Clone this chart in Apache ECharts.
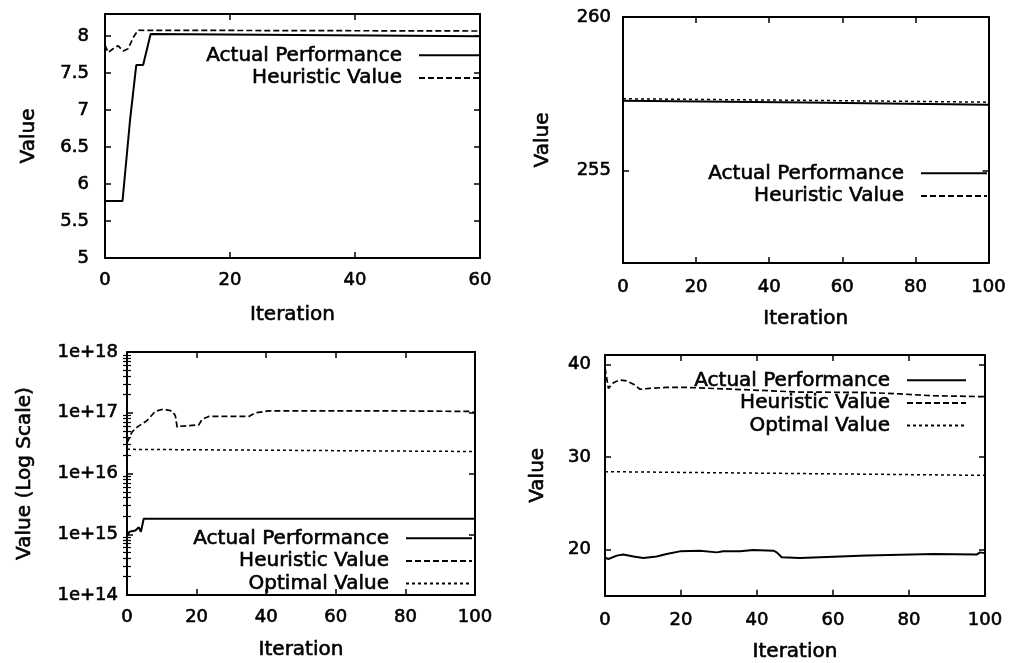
<!DOCTYPE html>
<html>
<head>
<meta charset="utf-8">
<script src="https://cdn.jsdelivr.net/npm/echarts@6/dist/echarts.min.js"></script>
<style>
  html, body { margin: 0; padding: 0; background: #fff; }
  #chart { width: 1009px; height: 663px; }
</style>
</head>
<body>
<div id="chart"></div>
<script>
// ---- Series data (iteration, value) for the four runs ----

// Run A (top left)
const aActualIter = [0, 2.8, 4.0, 5.0, 6.1, 7.3, 60];
const aActualVal  = [5.77, 5.77, 6.86, 7.61, 7.61, 8.03, 8.0];
const aHeurIter   = [0, 0.5, 1.3, 2.1, 2.9, 3.7, 4.5, 5.3, 60];
const aHeurVal    = [7.88, 7.78, 7.83, 7.87, 7.8, 7.83, 7.98, 8.08, 8.07];

// Run B (top right)
const bIter      = [0, 50, 100];
const bActualVal = [257.28, 257.22, 257.15];
const bHeurVal   = [257.34, 257.29, 257.23];

// Run C (bottom left, log scale)
const cActualIter = [0, 0.7, 2.4, 3.4, 4.0, 4.8, 5.3, 100];
const cActualVal  = [9.5e14, 1.1e15, 1.15e15, 1.3e15, 1.1e15, 1.8e15, 1.9e15, 1.8e15];
const cHeurIter   = [0, 1.4, 2.9, 5.7, 8.1, 10.5, 12.9, 13.9, 14.4, 15.3, 20.6, 21.6, 23.5, 35, 36.9, 40.7, 60, 80, 99, 100];
const cHeurVal    = [3.2e16, 4.8e16, 5.8e16, 7.4e16, 1.05e17, 1.15e17, 1.07e17, 8.9e16, 5.8e16, 6.0e16,
                     6.3e16, 7.8e16, 8.7e16, 8.7e16, 1.0e17, 1.07e17, 1.07e17, 1.07e17, 1.05e17, 9.8e16];
const cOptIter    = [0, 100];
const cOptVal     = [2.5e16, 2.3e16];

// Run D (bottom right)
const dActualIter = [0, 0.9, 3.1, 4.8, 7.5, 10.1, 13.6, 16.2, 19.7, 25, 29.4, 31.1, 35.5, 39, 44.3, 45.2, 46.5, 51.3, 68.9, 86.4, 97.8, 98.7, 100];
const dActualVal  = [19.1, 18.97, 19.33, 19.44, 19.23, 19.08, 19.23, 19.5, 19.79, 19.86, 19.68, 19.79, 19.79, 19.93, 19.86, 19.68, 19.15, 19.08, 19.33, 19.5, 19.44, 19.68, 19.6];
const dHeurIter   = [0, 0.9, 2.2, 3.9, 5.7, 7.5, 9.2, 11.8, 16.2, 21.5, 33.8, 51, 69, 77.6, 86, 100];
const dHeurVal    = [39.6, 37.4, 38.0, 38.3, 38.2, 37.85, 37.3, 37.4, 37.5, 37.5, 37.3, 37.0, 36.95, 36.8, 36.6, 36.5];
const dOptIter    = [0, 100];
const dOptVal     = [28.4, 28.0];

// Axis tick labels
const aYTicks = [5, 5.5, 6, 6.5, 7, 7.5, 8];
const bYTicks = [255, 260];
const cYDecades = [14, 15, 16, 17, 18];
const dYTicks = [20, 30, 40];

const NAME_ACTUAL = 'Actual Performance';
const NAME_HEUR = 'Heuristic Value';
const NAME_OPT = 'Optimal Value';

// ---- Styling helpers ----
const FONT = 'DejaVu Sans';
const INK = '#000';
// a thin outline in the text colour gives the glyphs a heavier, print-like weight
const heavy = { textBorderColor: INK, textBorderWidth: 0.6 };
const lineSolid  = { color: INK, width: 2, type: 'solid' };
const lineDashed = { color: INK, width: 1.7, type: [6, 3] };
const lineDotted = { color: INK, width: 1.5, type: [3, 3] };

const grids = [], xAxes = [], yAxes = [], series = [], legends = [];

function pairs(xs, ys, f) {
  return xs.map((x, i) => [x, f ? f(ys[i]) : ys[i]]);
}

function addPanel(p) {
  const g = grids.length;
  grids.push(Object.assign({ containLabel: false }, p.grid));

  const baseLine = { show: true, onZero: false, lineStyle: { color: INK, width: 2 } };
  const tick = { show: true, inside: true, length: 6, lineStyle: { color: INK, width: 1.5 } };
  const labelText = Object.assign({ fontSize: 18, fontFamily: FONT, color: INK }, heavy);
  const nameText = Object.assign({ fontSize: 20, fontFamily: FONT, color: INK }, heavy);

  const xi = xAxes.length;
  xAxes.push({
    gridIndex: g, type: 'value', position: 'bottom', min: 0, max: p.xMax, interval: 20,
    axisLine: baseLine, axisTick: tick, splitLine: { show: false },
    axisLabel: Object.assign({ margin: p.xMargin }, labelText),
    name: 'Iteration', nameLocation: 'middle', nameGap: p.xNameGap, nameTextStyle: nameText
  });
  xAxes.push({
    gridIndex: g, type: 'value', position: 'top', min: 0, max: p.xMax, interval: 20,
    axisLine: baseLine, axisTick: tick, splitLine: { show: false }, axisLabel: { show: false }
  });

  const yi = yAxes.length;
  yAxes.push({
    gridIndex: g, type: 'value', position: 'left', min: p.yMin, max: p.yMax,
    axisLine: baseLine, splitLine: { show: false },
    axisTick: Object.assign({ customValues: p.yTicks }, tick),
    axisLabel: Object.assign({ customValues: p.yTicks, margin: p.yMargin, formatter: p.yFormat }, labelText),
    name: p.yName, nameLocation: 'middle', nameGap: p.yNameGap, nameTextStyle: nameText
  });
  yAxes.push({
    gridIndex: g, type: 'value', position: 'right', min: p.yMin, max: p.yMax,
    axisLine: baseLine, splitLine: { show: false },
    axisTick: Object.assign({ customValues: p.yTicks }, tick),
    axisLabel: { show: false }
  });
  if (p.yMinor) {
    ['left', 'right'].forEach(pos => {
      yAxes.push({
        gridIndex: g, type: 'value', position: pos, min: p.yMin, max: p.yMax,
        axisLine: { show: false }, splitLine: { show: false }, axisLabel: { show: false },
        axisTick: { show: true, inside: true, length: 4, customValues: p.yMinor,
                    lineStyle: { color: INK, width: 1.2 } }
      });
    });
  }

  p.lines.forEach(l => {
    series.push({
      type: 'line', name: l.name, xAxisIndex: xi, yAxisIndex: yi,
      data: pairs(l.x, l.y, p.transform), symbol: 'none', showSymbol: false,
      lineStyle: l.style, itemStyle: { color: INK }, silent: true, animation: false, z: 3
    });
  });

  legends.push(Object.assign({
    data: p.lines.map(l => l.name), orient: 'vertical', align: 'right',
    itemWidth: p.legendWidth, itemHeight: 14, itemGap: 2, padding: 0,
    selectedMode: false,
    itemStyle: { opacity: 0 },
    textStyle: Object.assign({ fontSize: 20, fontFamily: FONT, color: INK, padding: [0, 12, 0, 0] }, heavy)
  }, p.legend));
}

addPanel({
  grid: { left: 105, top: 14, width: 375, height: 244 },
  xMax: 60, xMargin: 13, xNameGap: 47,
  yMin: 5, yMax: 8.3, yTicks: aYTicks, yMargin: 16, yName: 'Value', yNameGap: 66,
  lines: [
    { name: NAME_ACTUAL, x: aActualIter, y: aActualVal, style: lineSolid },
    { name: NAME_HEUR, x: aHeurIter, y: aHeurVal, style: lineDashed }
  ],
  legendWidth: 60, legend: { right: 1009 - 480, top: 45 }
});

addPanel({
  grid: { left: 623, top: 17, width: 367, height: 246 },
  xMax: 100, xMargin: 15, xNameGap: 46,
  yMin: 252, yMax: 260, yTicks: bYTicks, yMargin: 12, yName: 'Value', yNameGap: 70,
  lines: [
    { name: NAME_ACTUAL, x: bIter, y: bActualVal, style: lineSolid },
    { name: NAME_HEUR, x: bIter, y: bHeurVal, style: lineDotted }
  ],
  legendWidth: 66, legend: { right: 1009 - 988, top: 163 }
});

// Minor ticks at 2..9 x 10^n on the log axis
const cMinor = [];
for (let d = 14; d < 18; d++) for (let k = 2; k <= 9; k++) cMinor.push(d + Math.log10(k));

addPanel({
  grid: { left: 127, top: 352, width: 348, height: 243 },
  xMax: 100, xMargin: 13, xNameGap: 45,
  yMin: 14, yMax: 18, yTicks: cYDecades, yMinor: cMinor, yMargin: 9,
  yFormat: v => '1e+' + Math.round(v),
  transform: v => Math.log10(v),
  yName: 'Value (Log Scale)', yNameGap: 92,
  lines: [
    { name: NAME_ACTUAL, x: cActualIter, y: cActualVal, style: lineSolid },
    { name: NAME_HEUR, x: cHeurIter, y: cHeurVal, style: lineDashed },
    { name: NAME_OPT, x: cOptIter, y: cOptVal, style: lineDotted }
  ],
  legendWidth: 66, legend: { right: 1009 - 473, top: 528 }
});

addPanel({
  grid: { left: 605, top: 355, width: 380, height: 243 },
  xMax: 100, xMargin: 16, xNameGap: 46,
  yMin: 15, yMax: 41, yTicks: dYTicks, yMargin: 14, yName: 'Value', yNameGap: 57,
  lines: [
    { name: NAME_ACTUAL, x: dActualIter, y: dActualVal, style: lineSolid },
    { name: NAME_HEUR, x: dHeurIter, y: dHeurVal, style: lineDashed },
    { name: NAME_OPT, x: dOptIter, y: dOptVal, style: lineDotted }
  ],
  legendWidth: 59, legend: { right: 1009 - 967, top: 370 }
});

const chart = echarts.init(document.getElementById('chart'), null, { renderer: 'canvas' });
chart.setOption({
  backgroundColor: '#fff',
  animation: false,
  grid: grids,
  xAxis: xAxes,
  yAxis: yAxes,
  legend: legends,
  series: series
});
</script>
</body>
</html>
